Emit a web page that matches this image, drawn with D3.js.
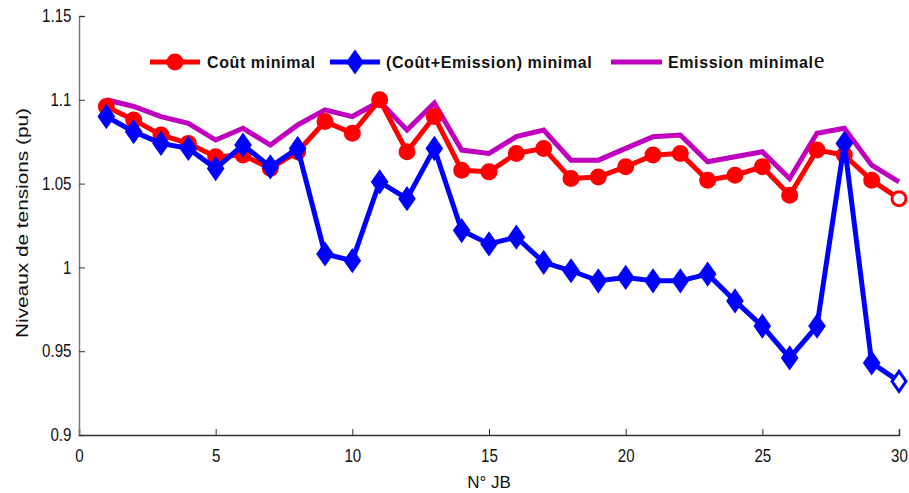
<!DOCTYPE html>
<html>
<head>
<meta charset="utf-8">
<script src="https://cdn.jsdelivr.net/npm/d3@7"></script>
<style>
  body { margin: 0; background: #fff; }
  text { font-family: "Liberation Sans", Arial, sans-serif; }
</style>
</head>
<body>
<div id="chart"></div>
<script>
var svgWidth = 909;
var svgHeight = 493;

var margin = {top: 16, left: 79, right: 10, bottom: 58};
var width = 899 - margin.left;
var height = 435 - margin.top;

// bus numbers
var jb = d3.range(1, 31);

// Coût minimal
var coutMin = [1.096, 1.088, 1.079, 1.074, 1.066, 1.067, 1.059, 1.069, 1.087, 1.080,
               1.100, 1.069, 1.090, 1.058, 1.057, 1.068, 1.071, 1.053, 1.054, 1.060,
               1.067, 1.068, 1.052, 1.055, 1.060, 1.043, 1.070, 1.067, 1.052, 1.041];
// (Coût+Emission) minimal
var coutEmis = [1.090, 1.081, 1.074, 1.071, 1.059, 1.073, 1.060, 1.071, 1.008, 1.004,
                1.051, 1.041, 1.071, 1.022, 1.014, 1.018, 1.003, 0.998, 0.992, 0.994,
                0.992, 0.992, 0.996, 0.980, 0.965, 0.946, 0.965, 1.074, 0.943, 0.932];
// Emission minimale
var emisMin = [1.100, 1.096, 1.090, 1.086, 1.076, 1.083, 1.073, 1.085, 1.094, 1.090,
               1.099, 1.082, 1.098, 1.070, 1.068, 1.078, 1.082, 1.064, 1.064, 1.071,
               1.078, 1.079, 1.063, 1.066, 1.069, 1.053, 1.080, 1.083, 1.061, 1.051];

var xTicks = [0, 5, 10, 15, 20, 25, 30];
var yTicks = [0.9, 0.95, 1, 1.05, 1.1, 1.15];

var svg = d3.select("#chart")
    .append("svg")
    .attr("width", svgWidth)
    .attr("height", svgHeight);

var chart = svg.append("g")
    .attr("transform", `translate(${margin.left}, ${margin.top})`);

var x = d3.scaleLinear().domain([0, 30]).range([0, width]);
var y = d3.scaleLinear().domain([0.9, 1.15]).range([height, 0]);

// axes - ticks point inward like matlab
var xAxis = d3.axisBottom(x).tickValues(xTicks).tickSize(-6).tickPadding(14).tickFormat(d3.format("d"));
var yAxis = d3.axisLeft(y).tickValues(yTicks).tickSize(-6).tickPadding(9).tickFormat(d => d);

var gx = chart.append("g")
    .attr("transform", `translate(0,${height})`)
    .call(xAxis);
var gy = chart.append("g").call(yAxis);

gx.select(".domain").attr("stroke", "#333").attr("stroke-width", 1.5);
gy.select(".domain").attr("stroke", "#777").attr("stroke-width", 1.5);
gx.selectAll(".tick line").attr("stroke", "#333");
gy.selectAll(".tick line").attr("stroke", "#333");
// the original labels are narrow, squeeze them horizontally
gx.selectAll(".tick text").attr("font-size", 18).attr("fill", "#111")
    .attr("transform", "scale(0.84,1)");
gy.selectAll(".tick text").attr("font-size", 18).attr("fill", "#111")
    .attr("transform", "scale(0.84,1)");

var series = [
    {name: "Coût minimal", values: coutMin, color: "#ff0000", marker: "circle"},
    {name: "(Coût+Emission) minimal", values: coutEmis, color: "#0000ff", marker: "diamond"},
    {name: "Emission minimale", values: emisMin, color: "#bf00bf", marker: "none"}
];

var line = d3.line()
    .x((d, i) => x(jb[i]))
    .y(d => y(d));

var diamond = "M0,-10 L7,0 L0,10 L-7,0 Z";

// draw in order: purple, red, blue (blue on top)
[series[2], series[0], series[1]].forEach(s => {
    chart.append("path")
        .datum(s.values)
        .attr("fill", "none")
        .attr("stroke", s.color)
        .attr("stroke-width", 5)
        .attr("stroke-linejoin", "miter")
        .attr("d", line);

    if (s.marker == "circle") {
        chart.selectAll(".c")
            .data(s.values)
            .enter()
            .append("circle")
            .attr("cx", (d, i) => x(jb[i]))
            .attr("cy", d => y(d))
            .attr("r", 7)
            .attr("fill", (d, i) => i == s.values.length - 1 ? "#fff" : s.color)
            .attr("stroke", s.color)
            .attr("stroke-width", 3);
    }
    if (s.marker == "diamond") {
        chart.selectAll(".dm")
            .data(s.values)
            .enter()
            .append("path")
            .attr("d", diamond)
            .attr("transform", (d, i) => `translate(${x(jb[i])},${y(d)})`)
            .attr("fill", (d, i) => i == s.values.length - 1 ? "#fff" : s.color)
            .attr("stroke", s.color)
            .attr("stroke-width", 3);
    }
});

// legend
var legend = svg.append("g").attr("transform", "translate(0,62)");
var legItems = [
    {x0: 150, x1: 200, tx: 207, s: series[0]},
    {x0: 330, x1: 380, tx: 386, s: series[1]},
    {x0: 611, x1: 662, tx: 668, s: series[2]}
];
legItems.forEach(it => {
    legend.append("line")
        .attr("x1", it.x0).attr("x2", it.x1)
        .attr("y1", 0).attr("y2", 0)
        .attr("stroke", it.s.color)
        .attr("stroke-width", 5);
    var mx = (it.x0 + it.x1) / 2;
    if (it.s.marker == "circle") {
        legend.append("circle").attr("cx", mx).attr("cy", 0).attr("r", 7)
            .attr("fill", it.s.color).attr("stroke", it.s.color).attr("stroke-width", 3);
    } else if (it.s.marker == "diamond") {
        legend.append("path").attr("d", diamond)
            .attr("transform", `translate(${mx},0)`)
            .attr("fill", it.s.color).attr("stroke", it.s.color).attr("stroke-width", 3);
    }
    var t = legend.append("text")
        .attr("x", it.tx)
        .attr("y", 6)
        .attr("font-size", 16)
        .attr("font-weight", "bold")
        .attr("letter-spacing", "0.6px")
        .attr("fill", "#111");
    if (it.s.name == "Emission minimale") {
        // the last letter was in a different font in the original
        t.append("tspan").text("Emission minimal");
        t.append("tspan").attr("font-family", "Liberation Serif").attr("font-weight", "normal")
            .attr("font-size", 24).text("e");
    } else {
        t.text(it.s.name);
    }
});

// axis labels
svg.append("text")
    .attr("transform", `translate(28, 223) rotate(-90)`)
    .attr("text-anchor", "middle")
    .attr("font-size", 17)
    .attr("textLength", 230)
    .attr("lengthAdjust", "spacingAndGlyphs")
    .attr("fill", "#111")
    .text("Niveaux de tensions (pu)");

svg.append("text")
    .attr("x", margin.left + x(15))
    .attr("y", 488)
    .attr("text-anchor", "middle")
    .attr("font-size", 17)
    .attr("fill", "#111")
    .text("N° JB");
</script>
</body>
</html>
